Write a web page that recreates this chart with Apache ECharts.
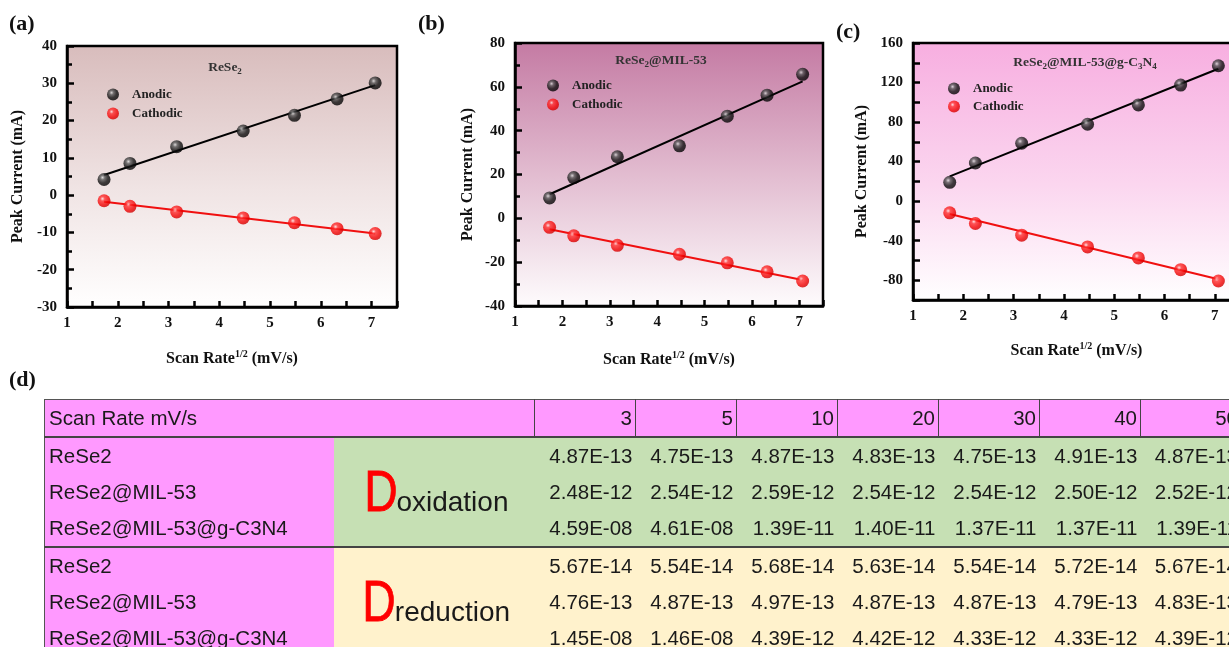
<!DOCTYPE html>
<html>
<head>
<meta charset="utf-8">
<script src="https://cdn.jsdelivr.net/npm/echarts@6/dist/echarts.min.js"></script>
<style>
html,body{margin:0;padding:0;width:1229px;height:647px;overflow:hidden;background:#fff;}
#chart{position:absolute;left:0;top:0;width:1229px;height:385px;}
#dlabel{position:absolute;left:9px;top:366px;font:bold 22px 'Liberation Serif',serif;color:#111;}
#tblwrap{position:absolute;left:0;top:0;width:1229px;height:647px;overflow:hidden;}
#inner{position:absolute;left:44px;top:399px;width:1300px;}
table{border-collapse:collapse;table-layout:fixed;width:1197px;
  font-family:'Liberation Sans',sans-serif;font-size:20.5px;color:#1a1a1a;border:1.5px solid #555;}
td{padding:0;height:36px;white-space:nowrap;overflow:hidden;}
.hd{background:#ff99ff;border-bottom:2px solid #444;}
.hd.first{text-align:left;padding-left:4px;}
.hd.num{text-align:right;padding-right:3px;border-left:1px solid #444;}
.lab{background:#ff99ff;text-align:left;padding-left:4px;}
.ox{background:#c6e0b4;}
.red{background:#fff2cc;}
.val{text-align:right;padding-right:3px;}
.dcell{text-align:center;vertical-align:middle;}
.dcell .D{display:inline-block;color:#ff0000;font-size:58px;line-height:50px;transform:scaleX(0.8);margin-right:-5px;-webkit-text-stroke:0.8px #ff0000;}
.dcell .w{font-size:28px;}
tr.sep td{border-top:2px solid #444;}
</style>
</head>
<body>
<div id="chart"></div>
<div id="dlabel">(d)</div>
<div id="tblwrap"><div id="inner"><table id="tbl"></table></div></div>
<script>
// ---------- chart data ----------
const xVals = [1.73, 2.24, 3.16, 4.47, 5.48, 6.32, 7.07];
const fitX = [1.73, 7.07];

const anodicA = [4.2, 8.5, 13.0, 17.2, 21.4, 25.8, 30.1];
const cathodicA = [-1.5, -3.0, -4.5, -6.1, -7.4, -9.0, -10.3];
const fitAnodicA = [5.4, 29.5];
const fitCathodicA = [-1.8, -10.3];

const anodicB = [9.3, 18.6, 28.1, 33.1, 46.6, 56.2, 65.7];
const cathodicB = [-4.1, -8.0, -12.3, -16.4, -20.3, -24.4, -28.6];
const fitAnodicB = [11.0, 62.5];
const fitCathodicB = [-5.0, -28.1];

const anodicC = [19.0, 38.6, 58.6, 77.8, 97.4, 117.4, 137.0];
const cathodicC = [-11.8, -22.6, -34.4, -46.3, -57.4, -69.3, -80.8];
const fitAnodicC = [25.0, 134.0];
const fitCathodicC = [-13.0, -79.0];

// ---------- table data ----------
const scanRates = [3, 5, 10, 20, 30, 40, 50];
const materials = ['ReSe2', 'ReSe2@MIL-53', 'ReSe2@MIL-53@g-C3N4'];
const oxReSe2 = ['4.87E-13','4.75E-13','4.87E-13','4.83E-13','4.75E-13','4.91E-13','4.87E-13'];
const oxMIL   = ['2.48E-12','2.54E-12','2.59E-12','2.54E-12','2.54E-12','2.50E-12','2.52E-12'];
const oxCN    = ['4.59E-08','4.61E-08','1.39E-11','1.40E-11','1.37E-11','1.37E-11','1.39E-11'];
const redReSe2 = ['5.67E-14','5.54E-14','5.68E-14','5.63E-14','5.54E-14','5.72E-14','5.67E-14'];
const redMIL   = ['4.76E-13','4.87E-13','4.97E-13','4.87E-13','4.87E-13','4.79E-13','4.83E-13'];
const redCN    = ['1.45E-08','1.46E-08','4.39E-12','4.42E-12','4.33E-12','4.33E-12','4.39E-12'];

// ---------- build table ----------
(function(){
  const t = document.getElementById('tbl');
  let h = '<colgroup><col style="width:289px"><col style="width:201px">';
  scanRates.forEach(()=>{ h += '<col style="width:101px">'; });
  h += '</colgroup>';
  h += '<tr><td class="hd first" colspan="2">Scan Rate mV/s</td>';
  scanRates.forEach(r=>{ h += '<td class="hd num">'+r+'</td>'; });
  h += '</tr>';
  const groups = [
    {cls:'ox', word:'oxidation', rows:[oxReSe2, oxMIL, oxCN]},
    {cls:'red', word:'reduction', rows:[redReSe2, redMIL, redCN]}
  ];
  groups.forEach((g,gi)=>{
    g.rows.forEach((vals,ri)=>{
      h += '<tr' + (gi===1 && ri===0 ? ' class="sep"' : '') + '>';
      h += '<td class="lab">'+materials[ri]+'</td>';
      if (ri===0) h += '<td class="dcell '+g.cls+'" rowspan="3"><span class="D">D</span><span class="w">'+g.word+'</span></td>';
      vals.forEach(v=>{ h += '<td class="val '+g.cls+'">'+v+'</td>'; });
      h += '</tr>';
    });
  });
  t.innerHTML = h;
})();

// ---------- chart ----------
const FONT = 'Liberation Serif';
const blackBall = {type:'radial', x:0.38, y:0.35, r:0.7, colorStops:[
  {offset:0, color:'#d8d8d8'},{offset:0.25, color:'#555'},{offset:0.6, color:'#111'},{offset:1, color:'#000'}]};
const redBall = {type:'radial', x:0.38, y:0.35, r:0.7, colorStops:[
  {offset:0, color:'#ffe0e0'},{offset:0.25, color:'#ff3030'},{offset:0.7, color:'#f00000'},{offset:1, color:'#c80000'}]};

const grids = [
  {left:67, top:46, width:330, height:261, show:true, borderWidth:2.5, borderColor:'#000', outerBoundsMode:'none', containLabel:false,
   backgroundColor:{type:'linear',x:0,y:0,x2:0,y2:1,colorStops:[{offset:0,color:'#d8bcbc'},{offset:0.55,color:'#f0e4e4'},{offset:1,color:'#ffffff'}]}},
  {left:515, top:43, width:308, height:263, show:true, borderWidth:2.5, borderColor:'#000', outerBoundsMode:'none', containLabel:false,
   backgroundColor:{type:'linear',x:0,y:0,x2:0,y2:1,colorStops:[{offset:0,color:'#c47aa3'},{offset:0.5,color:'#e2bcd0'},{offset:1,color:'#fefcfd'}]}},
  {left:913, top:43, width:327, height:257, show:true, borderWidth:2.5, borderColor:'#000', outerBoundsMode:'none', containLabel:false,
   backgroundColor:{type:'linear',x:0,y:0,x2:0,y2:1,colorStops:[{offset:0,color:'#f7aee0'},{offset:0.55,color:'#fbd6ef'},{offset:1,color:'#ffffff'}]}}
];

const axisLineStyle = {show:true, onZero:false, lineStyle:{color:'#000', width:2.5}};
const labelStyle = {color:'#111', fontFamily:FONT, fontWeight:'bold', fontSize:15};

function xAxisFor(gi, gap){
  return {
    type:'value', gridIndex:gi, min:1, max:7.5, interval:0.5,
    axisLine:axisLineStyle,
    axisTick:{show:true, inside:true, length:6, lineStyle:{color:'#000', width:2.5}},
    splitLine:{show:false},
    axisLabel:Object.assign({margin:9, formatter:v => (Math.abs(v-Math.round(v))<1e-9 ? String(Math.round(v)) : '')}, labelStyle),
    name:'{t|Scan Rate}{sup|1/2}{t| (mV/s)}', nameLocation:'middle', nameGap:gap,
    nameTextStyle:{rich:{
      t:{fontFamily:FONT, fontWeight:'bold', fontSize:16, color:'#111', lineHeight:20},
      sup:{fontFamily:FONT, fontWeight:'bold', fontSize:10, color:'#111', lineHeight:10, verticalAlign:'top'}
    }}
  };
}
function yAxisFor(gi, min, max, interval, minor, labelEvery, gap){
  return {
    type:'value', gridIndex:gi, min:min, max:max, interval:interval,
    axisLine:axisLineStyle,
    axisTick:{show:true, inside:true, length:7, lineStyle:{color:'#000', width:2.5}},
    minorTick:{show:minor, splitNumber:2, length:5, lineStyle:{color:'#000', width:2.5}},
    splitLine:{show:false}, minorSplitLine:{show:false},
    axisLabel:Object.assign({margin:10, formatter:v => (Math.abs(v % labelEvery) < 1e-9 ? String(v) : '')}, labelStyle),
    name:'Peak Current (mA)', nameLocation:'middle', nameGap:gap, nameRotate:90,
    nameTextStyle:{fontFamily:FONT, fontWeight:'bold', fontSize:16, color:'#111'}
  };
}

function pairs(xs, ys){ return xs.map((x,i)=>[x, ys[i]]); }

function seriesFor(gi, an, ca, fitAn, fitCa){
  return [
    {name:'fitAn'+gi, type:'line', xAxisIndex:gi, yAxisIndex:gi, data:pairs(fitX, fitAn), showSymbol:false,
     lineStyle:{color:'#000', width:2}, z:2, silent:true},
    {name:'fitCa'+gi, type:'line', xAxisIndex:gi, yAxisIndex:gi, data:pairs(fitX, fitCa), showSymbol:false,
     lineStyle:{color:'#f01010', width:2}, z:2, silent:true},
    {name:'Anodic', type:'scatter', xAxisIndex:gi, yAxisIndex:gi, data:pairs(xVals, an), symbol:'circle', symbolSize:13,
     itemStyle:{color:blackBall}, z:3},
    {name:'Cathodic', type:'scatter', xAxisIndex:gi, yAxisIndex:gi, data:pairs(xVals, ca), symbol:'circle', symbolSize:13,
     itemStyle:{color:redBall}, z:3}
  ];
}

function legendAt(left, top, gap){
  return {
    data:['Anodic','Cathodic'], orient:'vertical', left:left, top:top, itemGap:gap, padding:0,
    icon:'circle', itemWidth:12, itemHeight:12, selectedMode:false,
    textStyle:{fontFamily:FONT, fontWeight:'bold', fontSize:13, color:'#222', padding:[0,0,0,8]}
  };
}

const subRich = {
  n:{fontFamily:FONT, fontWeight:'bold', fontSize:13.5, fill:'#333', lineHeight:16},
  s:{fontFamily:FONT, fontWeight:'bold', fontSize:9, fill:'#333', lineHeight:9, verticalAlign:'bottom'}
};

const option = {
  animation:false,
  backgroundColor:'#fff',
  grid:grids,
  xAxis:[xAxisFor(0,42), xAxisFor(1,44), xAxisFor(2,41)],
  yAxis:[yAxisFor(0,-30,40,10,true,10,41), yAxisFor(1,-40,80,20,true,20,39), yAxisFor(2,-100,160,20,false,40,43)],
  legend:[legendAt(107,88,6), legendAt(547,79,6), legendAt(948,82,5)],
  series:[].concat(
    seriesFor(0, anodicA, cathodicA, fitAnodicA, fitCathodicA),
    seriesFor(1, anodicB, cathodicB, fitAnodicB, fitCathodicB),
    seriesFor(2, anodicC, cathodicC, fitAnodicC, fitCathodicC)
  ),
  graphic:[
    {type:'text', left:9, top:13, style:{text:'(a)', font:'bold 22px "Liberation Serif"', fill:'#111'}},
    {type:'text', left:418, top:13, style:{text:'(b)', font:'bold 22px "Liberation Serif"', fill:'#111'}},
    {type:'text', left:836, top:21, style:{text:'(c)', font:'bold 22px "Liberation Serif"', fill:'#111'}},
    {type:'text', x:225, y:68, style:{text:'{n|ReSe}{s|2}', rich:subRich, align:'center', verticalAlign:'middle'}},
    {type:'text', x:661, y:61, style:{text:'{n|ReSe}{s|2}{n|@MIL-53}', rich:subRich, align:'center', verticalAlign:'middle'}},
    {type:'text', x:1085, y:63, style:{text:'{n|ReSe}{s|2}{n|@MIL-53@g-C}{s|3}{n|N}{s|4}', rich:subRich, align:'center', verticalAlign:'middle'}}
  ]
};

const chart = echarts.init(document.getElementById('chart'), null, {renderer:'canvas'});
chart.setOption(option);
</script>
</body>
</html>
